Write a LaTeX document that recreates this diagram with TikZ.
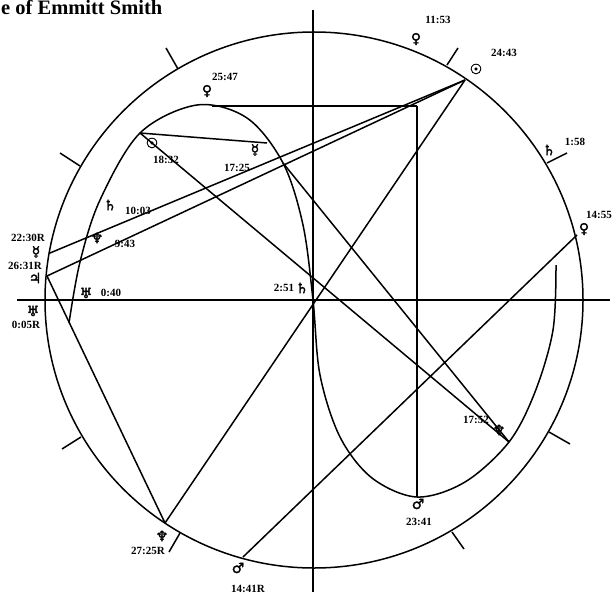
\documentclass[tikz,border=0pt]{standalone}
\usepackage{fontspec}
\setmainfont{Liberation Serif}
\newfontfamily\astrofont[FakeBold=2]{DejaVu Sans}
\usetikzlibrary{positioning,calc}

\begin{document}
\begin{tikzpicture}[-, x=1pt, y=-1pt,
	chart/.style={line width=1.5pt},
	axis/.style={line width=2.2pt},
	time/.style={inner sep=0pt, font=\fontsize{11}{11}\selectfont\bfseries},
	planet/.style={inner sep=0pt, font=\fontsize{14}{14}\astrofont}]

	\useasboundingbox (0, 0) rectangle (615, 596);

	\node[inner sep=0pt, anchor=base west, font=\fontsize{20.5}{20.5}\selectfont\bfseries, shift = {(1, 15)}] (title) {e of Emmitt Smith};

	\coordinate (centre) at (314, 300);
	\coordinate (ax_n) at (313, 10);
	\coordinate (ax_s) at (313, 592);
	\coordinate (ax_w) at (17, 300);
	\coordinate (ax_e) at (610, 300);

	\coordinate (out_sun) at (465, 80);
	\coordinate (out_venus) at (50, 253);
	\coordinate (out_jup) at (47, 276);
	\coordinate (out_nep) at (165, 523);
	\coordinate (out_mars) at (243, 557);
	\coordinate (out_ven2) at (577, 235);
	\coordinate (in_ven) at (212, 106);
	\coordinate (in_cor) at (417, 106);
	\coordinate (in_mars) at (417, 497);
	\coordinate (in_moon) at (140, 133);
	\coordinate (in_merc) at (267, 143);
	\coordinate (in_node) at (283, 163);
	\coordinate (in_nep) at (509, 442);

	\draw[chart] (centre) circle [x radius=269, y radius=268];
	\draw[chart] plot[smooth, tension=0.55] coordinates {(69,323) (80,262) (100,200) (140,133) (197,105) (247,118) (283,163) (303,225) (313,300) (320,375) (340,437) (372,478) (417,497) (465,482) (509,442) (535,392) (553,330) (556,265)};

	\path[axis] (ax_n) edge [] (ax_s);
	\path[axis] (ax_w) edge [] (ax_e);

	\path[chart] (out_sun) edge [] (out_venus);
	\path[chart] (out_sun) edge [] (out_jup);
	\path[chart] (out_sun) edge [] (out_nep);
	\path[chart] (out_jup) edge [] (out_nep);
	\path[chart] (out_mars) edge [] (out_ven2);
	\path[chart] (in_ven) edge [] (in_cor);
	\path[chart] (in_cor) edge [] (in_mars);
	\path[chart] (in_moon) edge [] (in_merc);
	\path[chart] (in_moon) edge [] (in_nep);
	\path[chart] (in_node) edge [] (in_nep);

	\coordinate (tk_a1) at (178, 69);
	\coordinate (tk_a2) at (166, 48);
	\coordinate (tk_b1) at (80, 166);
	\coordinate (tk_b2) at (60, 153);
	\coordinate (tk_c1) at (447, 65);
	\coordinate (tk_c2) at (458, 48);
	\coordinate (tk_d1) at (547, 163);
	\coordinate (tk_d2) at (567, 153);
	\coordinate (tk_e1) at (549, 432);
	\coordinate (tk_e2) at (570, 444);
	\coordinate (tk_f1) at (452, 532);
	\coordinate (tk_f2) at (464, 549);
	\coordinate (tk_g1) at (180, 533);
	\coordinate (tk_g2) at (169, 552);
	\coordinate (tk_h1) at (81, 437);
	\coordinate (tk_h2) at (62, 449);

	\path[chart] (tk_a1) edge [] (tk_a2);
	\path[chart] (tk_b1) edge [] (tk_b2);
	\path[chart] (tk_c1) edge [] (tk_c2);
	\path[chart] (tk_d1) edge [] (tk_d2);
	\path[chart] (tk_e1) edge [] (tk_e2);
	\path[chart] (tk_f1) edge [] (tk_f2);
	\path[chart] (tk_g1) edge [] (tk_g2);
	\path[chart] (tk_h1) edge [] (tk_h2);

	\node[time, shift = {(438, 20)}] (t_1153) {11:53};
	\node[planet, shift = {(416, 39)}] (p_1153) {♀};
	\node[time, shift = {(504, 53)}] (t_2443) {24:43};
	\node[planet, shift = {(476, 69)}] (p_2443) {☉};
	\node[planet, shift = {(549, 150)}] (p_158) {♄};
	\node[time, shift = {(575, 142)}] (t_158) {1:58};
	\node[time, shift = {(599, 215)}] (t_1455) {14:55};
	\node[planet, shift = {(584, 229)}] (p_1455) {♀};
	\node[time, shift = {(225, 77)}] (t_2547) {25:47};
	\node[planet, shift = {(207, 91)}] (p_2547) {♀};
	\node[planet, shift = {(152, 143)}] (p_1832) {☉};
	\node[time, shift = {(166, 160)}] (t_1832) {18:32};
	\node[planet, shift = {(255, 150)}] (p_1725) {☿};
	\node[time, shift = {(237, 168)}] (t_1725) {17:25};
	\node[planet, shift = {(110, 205)}] (p_1003) {♄};
	\node[time, shift = {(138, 211)}] (t_1003) {10:03};
	\node[planet, shift = {(97, 238)}] (p_943) {♆};
	\node[time, shift = {(125, 244)}] (t_943) {9:43};
	\node[time, shift = {(28, 238)}] (t_2230) {22:30R};
	\node[planet, shift = {(36, 252)}] (p_2230) {☿};
	\node[time, shift = {(25, 266)}] (t_2631) {26:31R};
	\node[planet, shift = {(35, 278)}] (p_2631) {♃};
	\node[planet, shift = {(86, 293)}] (p_040) {♅};
	\node[time, shift = {(111, 293)}] (t_040) {0:40};
	\node[planet, shift = {(33, 311)}] (p_005) {♅};
	\node[time, shift = {(26, 325)}] (t_005) {0:05R};
	\node[time, shift = {(284, 288)}] (t_251) {2:51};
	\node[planet, shift = {(302, 288)}] (p_251) {♄};
	\node[time, shift = {(476, 420)}] (t_1752) {17:52};
	\node[planet, shift = {(499, 430)}] (p_1752) {♆};
	\node[planet, shift = {(418, 504)}] (p_2341) {♂};
	\node[time, shift = {(419, 522)}] (t_2341) {23:41};
	\node[planet, shift = {(162, 536)}] (p_2725) {♆};
	\node[time, shift = {(148, 551)}] (t_2725) {27:25R};
	\node[planet, shift = {(238, 568)}] (p_1441) {♂};
	\node[time, shift = {(248, 589)}] (t_1441) {14:41R};
\end{tikzpicture}
\end{document}
